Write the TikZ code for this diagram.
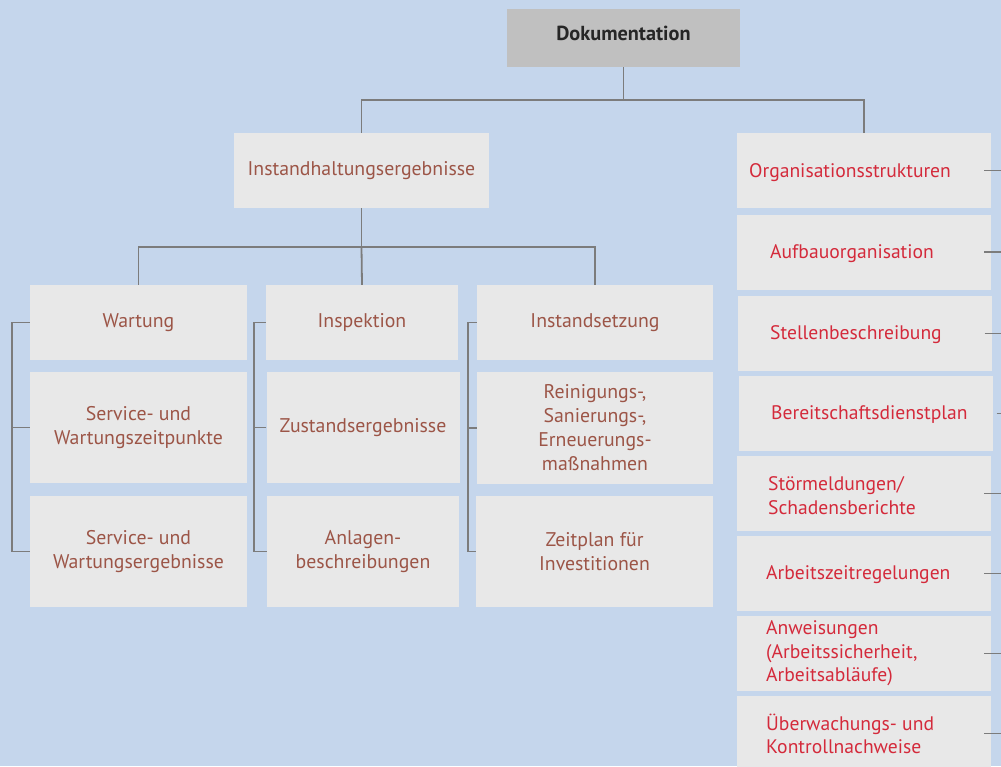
\documentclass[tikz,border=0pt]{standalone}
\usepackage{fontspec}
\setmainfont{PT Sans}
\begin{document}
\definecolor{bgc}{HTML}{C5D6EC}
\definecolor{boxc}{HTML}{E8E8E8}
\definecolor{topc}{HTML}{C0C0C0}
\definecolor{linec}{HTML}{7C7C7C}
\definecolor{brown}{HTML}{9C5547}
\definecolor{redc}{HTML}{D42A3B}
\begin{tikzpicture}[x=1pt,y=-1pt,
  box/.style={fill=boxc, draw=none, inner sep=0pt, align=center, text=brown,
    font=\fontsize{19.8}{24}\selectfont},
  rbox/.style={fill=boxc, draw=none, inner sep=0pt, minimum width=254pt, minimum height=75pt},
  rtext/.style={anchor=west, align=left, inner sep=0pt, text=redc,
    font=\fontsize{19.6}{23.5}\selectfont},
  conn/.style={draw=linec, line width=1.8pt}]
\fill[bgc] (0,0) rectangle (1001,766);
\useasboundingbox (0,0) rectangle (1001,766);
\begin{scope}
\clip (0,0) rectangle (1001,766);
% top
\node[fill=topc, inner sep=0pt, minimum width=233pt, minimum height=58pt,
  text height=14pt, text depth=9pt,
  font=\bfseries\fontsize{20.3}{24}\selectfont, text=black!85] (doc) at (623.5,38) {Dokumentation};
\node[box, minimum width=255pt, minimum height=75pt] (ih) at (361.5,170.5) {Instandhaltungsergebnisse};
% columns
\node[box, minimum width=217pt, minimum height=75pt] (w1) at (138.5,322.5) {Wartung};
\node[box, minimum width=217pt, minimum height=111pt] (w2) at (138.5,427.5) {Service- und\\Wartungszeitpunkte};
\node[box, minimum width=217pt, minimum height=111pt] (w3) at (138.5,551.5) {Service- und\\Wartungsergebnisse};
\node[box, minimum width=192pt, minimum height=75pt] (i1) at (362,322.5) {Inspektion};
\node[box, minimum width=193pt, minimum height=111pt] (i2) at (363,427.5) {Zustandsergebnisse};
\node[box, minimum width=192pt, minimum height=111pt] (i3) at (363,551.5) {Anlagen-\\beschreibungen};
\node[box, minimum width=236pt, minimum height=75pt] (s1) at (595,322.5) {Instandsetzung};
\node[box, minimum width=236pt, minimum height=112pt] (s2) at (595,428) {Reinigungs-,\\Sanierungs-,\\Erneuerungs-\\maßnahmen};
\node[box, minimum width=237pt, minimum height=111pt] (s3) at (594.5,551.5) {Zeitplan für\\Investitionen};
% right column
\node[rbox] (o1) at (864,170.5) {};
\node[rbox] (o2) at (864,252) {};
\node[rbox] (o3) at (864.5,333.5) {};
\node[rbox] (o4) at (865.5,413.5) {};
\node[rbox] (o5) at (864,493.5) {};
\node[rbox] (o6) at (864,573.5) {};
\node[rbox] (o7) at (864,653.5) {};
\node[rbox] (o8) at (864,733.5) {};
\node[rtext] (t1) at (749,173) {Organisationsstrukturen};
\node[rtext] (t2) at (770,254) {Aufbauorganisation};
\node[rtext] (t3) at (770,335) {Stellenbeschreibung};
\node[rtext] (t4) at (771,415) {Bereitschaftsdienstplan};
\node[rtext] (t5) at (768,495.5) {Störmeldungen/\\Schadensberichte};
\node[rtext] (t6) at (766,575) {Arbeitszeitregelungen};
\node[rtext] (t7) at (766,653.5) {Anweisungen\\(Arbeitssicherheit,\\Arbeitsabläufe)};
\node[rtext] (t8) at (766,734) {Überwachungs- und\\Kontrollnachweise};
% connectors
\coordinate (j1) at (623.5,100);
\coordinate (j2) at (361.5,247);
\draw[conn] (doc.south) -- (j1);
\draw[conn] (ih.north) |- (j1) -| (o1.north);
\draw[conn] (ih.south) -- (j2);
\draw[conn] (w1.north) |- (j2) -| (s1.north);
\draw[conn] (j2) -- (i1.north);
\draw[conn] (w1.west) -- ++(-18,0) |- (w3.west);
\draw[conn] (w2.west) -- ++(-18,0);
\draw[conn] (i1.west) -- ++(-12,0) |- (i3.west);
\draw[conn] (i2.west) -- ++(-12,0);
\draw[conn] (s1.west) -- ++(-9,0) |- (s3.west);
\draw[conn] (s2.west) -- ++(-9,0);
\foreach \n in {o1,o2,o3,o5,o6,o7,o8}{
  \draw[conn] ([xshift=-7pt]\n.east) -- ++(20,0);
}
\draw[conn] ([xshift=4pt]o4.east) -- ++(10,0);
\end{scope}
\end{tikzpicture}
\end{document}
